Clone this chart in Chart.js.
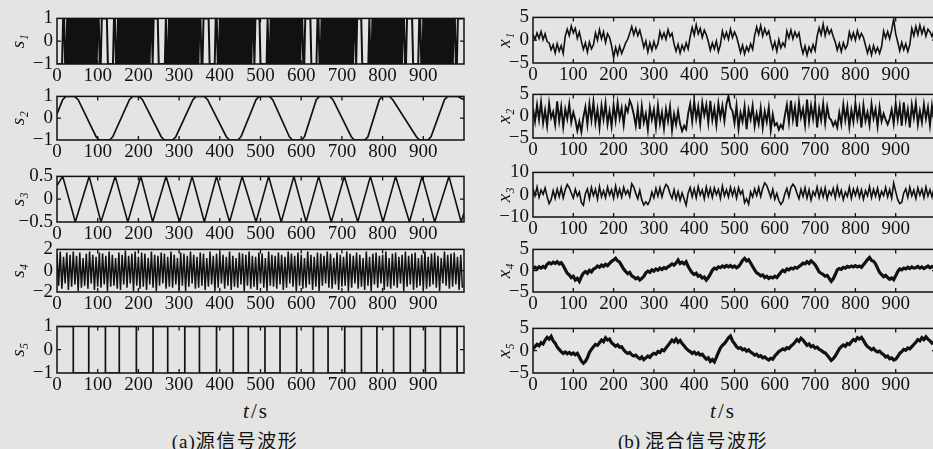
<!DOCTYPE html>
<html><head><meta charset="utf-8">
<script src="https://cdn.jsdelivr.net/npm/chart.js@4.4.0/dist/chart.umd.min.js"></script>
<style>
html,body{margin:0;padding:0;width:933px;height:449px;overflow:hidden;background:#e4e4e2;}
canvas{position:absolute;}
.lbl{position:absolute;font-family:"Liberation Serif","DejaVu Serif",serif;color:#111;white-space:nowrap;transform:translate(-50%,-50%);}
.cjk{font-family:"Noto Sans CJK SC",sans-serif;letter-spacing:1.5px;}
</style></head><body>
<div class="lbl" style="left:256px;top:411px;font-size:21px;letter-spacing:2px"><i>t</i>/s</div>
<div class="lbl" style="left:723px;top:411px;font-size:21px;letter-spacing:2px"><i>t</i>/s</div>
<div class="lbl" style="left:235px;top:439px;font-size:19px"><span style="letter-spacing:1px">(a)</span><span class="cjk">源信号波形</span></div>
<div class="lbl" style="left:693px;top:439px;font-size:19px">(b) <span class="cjk">混合信号波形</span></div>
<script>
// ---------- tick labels ----------
const xTickValues = [0,100,200,300,400,500,600,700,800,900];
const yTicksUnit = [-1,0,1];
const yTicksHalf = [-0.5,0,0.5];
const yTicksTwo = [-2,0,2];
const yTicksFive = [-5,0,5];
const yTicksTen = [-10,0,10];

// ---------- source signals ----------
// s1: sign sequence sampled every 2.5 s ('+' = 1, '-' = -1)
const s1Step = 2.5;
const s1Code = [
 "------++--+-+-+-+-+-+-+-+-+-+-+-+-+-+-+-",
 "++--++++++------++--+-+-+-+-+-+-+-+-+-+-+-+-+-+-+-",
 "+-++-+++++-------+--+-+-+-+-+-+-+-+-+-+-+-+-+-+-+-",
 "++--++++++------++--+-+-+-+-+-+-+-+-+-+-+-+-+-+-+-",
 "+-++-+++++-------+--+-+-+-+-+-+-+-+-+-+-+-+-+-+-+-",
 "++--++++++------++--+-+-+-+-+-+-+-+-+-+-+-+-+-+-+-",
 "+-++-+++++-------+--+-+-+-+-+-+-+-+-+-+-+-+-+-+-+-",
 "++--++++++------++--+-+-+-+-+-+-+-+-+-+-+-+-+-+-+-",
 "++--++++++"
].join("");

// s2: read turning points
const s2T = [0,14,22,43,52,96,104,129,137,178,186,202,210,256,264,284,292,334,342,362,370,416,424,444,452,489,497,522,530,571,579,600,608,637,645,670,678,723,731,756,764,792,800,817,825,883,891,911,919,952,960,985,1000];
const s2V = [0.2,0.85,1,1,0.85,-0.85,-1,-1,-0.85,0.85,1,1,0.85,-0.85,-1,-1,-0.85,0.85,1,1,0.85,-0.85,-1,-1,-0.85,0.85,1,1,0.85,-0.85,-1,-1,-0.85,0.85,1,1,0.85,-0.85,-1,-1,-0.85,0.85,1,1,0.85,-0.85,-1,-1,-0.85,0.85,1,1,0.85];

// s3: peaks and troughs
const s3T = [0,14,45,79,108,143,174,206,235,268,301,332,362,392,424,455,489,520,551,582,612,643,674,706,739,770,801,832,866,897,928,963,993,1000];
const s3V = [0.3,0.5,-0.5,0.5,-0.5,0.5,-0.5,0.5,-0.5,0.5,-0.5,0.5,-0.5,0.5,-0.5,0.5,-0.5,0.5,-0.5,0.5,-0.5,0.5,-0.5,0.5,-0.5,0.5,-0.5,0.5,-0.5,0.5,-0.5,0.5,-0.5,-0.3];

// s4: sampled every 4 s
const s4Step = 4;
const s4V = [
1.6,-1.4,1.8,-1.7,1.3,-1.2,1.7,-1.8,1.5,-1.5, 1.8,-1.3,1.4,-1.9,1.7,-1.6,1.2,-1.4,1.6,-1.7,
1.8,-1.2,1.5,-1.8,1.3,-1.5,1.7,-1.6,1.6,-1.3, 1.4,-1.9,1.8,-1.5,1.5,-1.4,1.2,-1.7,1.7,-1.8,
1.5,-1.3,1.9,-1.6,1.4,-1.2,1.6,-1.9,1.8,-1.4, 1.3,-1.7,1.7,-1.5,1.6,-1.8,1.2,-1.3,1.8,-1.6,
1.5,-1.9,1.4,-1.4,1.7,-1.2,1.6,-1.7,1.3,-1.5, 1.8,-1.6,1.5,-1.3,1.2,-1.8,1.7,-1.4,1.6,-1.9,
1.4,-1.5,1.8,-1.2,1.5,-1.7,1.3,-1.6,1.7,-1.4, 1.6,-1.8,1.2,-1.5,1.8,-1.3,1.4,-1.9,1.6,-1.6,
1.7,-1.2,1.5,-1.7,1.3,-1.4,1.8,-1.8,1.4,-1.5, 1.2,-1.6,1.7,-1.3,1.6,-1.9,1.5,-1.4,1.8,-1.7,
1.4,-1.5,1.3,-1.8,1.7,-1.2,1.6,-1.6,1.2,-1.9, 1.8,-1.4,1.5,-1.5,1.4,-1.7,1.7,-1.3,1.5,-1.8,
1.3,-1.6,1.8,-1.2,1.6,-1.5,1.4,-1.9,1.7,-1.4, 1.5,-1.7,1.2,-1.6,1.8,-1.3,1.5,-1.8,1.3,-1.5,
1.7,-1.9,1.6,-1.4,1.4,-1.2,1.8,-1.6,1.6,-1.7, 1.2,-1.3,1.7,-1.8,1.5,-1.5,1.3,-1.4,1.8,-1.9,
1.6,-1.6,1.4,-1.2,1.7,-1.7,1.5,-1.5,1.2,-1.8, 1.8,-1.4,1.3,-1.9,1.6,-1.3,1.7,-1.6,1.4,-1.2,
1.5,-1.8,1.8,-1.5,1.2,-1.7,1.6,-1.4,1.7,-1.6, 1.3,-1.2,1.5,-1.9,1.8,-1.5,1.4,-1.3,1.6,-1.8,
1.7,-1.6,1.2,-1.4,1.5,-1.8,1.8,-1.7,1.3,-1.5, 1.6,-1.3,1.7,-1.6,1.4,-1.9,1.2,-1.2,1.8,-1.4,
1.5,-1.7,1.6,-1.5,1.7,-1.3,1.3,-1.8,1.5,-1.6];

// s5: switching times of the square wave and level after each switch
const s5T = [0,40,78,119,153,195,236,272,314,350,392,433,470,511,548,589,630,666,707,748,786,827,868,905,942,983,1000];
const s5V = [1,-1,1,-1,1,-1,1,-1,1,-1,1,-1,1,-1,1,-1,1,-1,1,-1,1,-1,1,-1,1,-1,-1];

// ---------- mixed signals, sampled every 5 s ----------
const xStep = 5;
const x1V = [
1.2,0.2,1.6,0.4,1.9,0.1,1.4,-0.3, -0.6,-2.1,-1.0,-2.8,-0.8,-2.4,-1.2,-2.9,
0.9,2.4,1.0,3.1,1.6,2.6,0.4,1.8, -0.2,-2.0,-0.6,-2.6,-0.4,-1.9,-1.0,
1.6,0.0,2.3,0.3,1.8,-0.5,1.4,0.6, -1.2,-3.8,-1.6,-3.2,-1.3,-2.9,-1.8,-0.6,
0.2,1.5,3.0,1.2,2.6,1.0,2.2, 0.4,-1.6,-0.2,-2.6,-0.6,-2.2,-0.3,-1.8,-0.8,
1.9,0.4,1.6,0.2,2.3,0.8,1.5, -0.8,-2.4,-0.9,-2.8,-1.1,-2.2,-0.6,-1.9,
0.8,2.8,1.1,3.4,1.4,2.6,0.6,2.2,1.2, -0.3,-2.2,-0.6,-1.9,-0.2,-2.5,-1.0,
2.0,0.4,1.7,0.2,2.4,0.6,1.8,0.8, -0.9,-2.7,-1.1,-3.0,-1.4,-2.4,-0.8,-2.0,
1.0,2.9,1.3,3.2,0.9,2.5,1.2,2.0, -0.2,-1.9,-0.4,-2.4,0.1,-1.7,-0.6,-1.4,
2.0,0.5,2.2,0.3,1.8,0.7,1.6, -1.1,-2.9,-1.3,-3.3,-1.5,-2.6,-1.0,-2.3,
0.9,2.7,1.2,3.5,1.0,2.8,1.4,2.3,0.8, -0.4,-2.2,-0.7,-2.5,-0.6,-1.9,-1.1,
1.8,0.2,1.6,0.0,2.1,0.4,1.5,0.6, -1.1,-2.8,-1.3,-3.2,-1.2,-2.7,-1.6,-2.9,-1.4,
2.0,0.5,1.9,0.3,2.2,4.6,1.4, -0.4,-2.3,-0.5,-2.1,-0.8,-2.5,-1.0,
2.6,1.0,3.0,1.2,3.3,1.4,2.8,0.9,2.4, 1.8,0.8,2.2];

const x2V = [
1.8,-1.2,2.6,-0.8,3.2,-1.6,1.4,-2.2,2.9,-0.4,1.0,-1.9,3.4,-1.1,2.2,-2.4,1.6,-0.6,2.8,-1.4,0.9,
-0.8,-3.3,-1.2,-3.6,
-0.2,2.1,-1.9,2.8,-0.9,3.3,-1.5,1.6,-2.6,2.4,-0.7,3.0,-1.8,1.2,-2.3,2.6,-1.0,3.1,-0.5,1.9,-2.0,2.2,
1.0,3.6,2.4,
0.4,-2.2,1.8,-2.9,2.3,-1.4,0.6,-3.1,2.0,-0.8,1.5,-2.5,2.4,-1.7,0.9,-2.8,1.6,-1.1,2.2,-3.2,0.5,-1.9,1.2,
-1.8,-3.4,-2.2,-3.0,
0.6,2.8,-1.2,3.4,-0.6,2.2,-1.8,3.1,0.2,2.6,-1.5,3.5,-0.9,1.8,-2.0,2.9,-0.3,2.4,-1.1,
2.8,4.6,2.0,
1.2,-1.6,2.4,-2.9,0.8,-1.2,2.2,-3.0,1.5,-0.7,2.4,-2.3,0.6,-1.8,1.9,-2.6,1.1,-1.3,2.0,-3.2,0.4,-2.1,
-1.6,-3.1,-2.0,-2.8,
0.2,2.6,-1.4,3.6,-0.8,2.1,-2.4,3.2,-0.3,1.7,-2.0,3.8,-1.2,2.4,-0.6,3.0,-2.6,1.8,-0.9,2.9,-1.6,2.2,-0.4,
-0.9,-2.2,-1.2,-2.6,
0.8,-1.8,2.7,-0.9,2.2,-2.4,1.4,-1.3,3.0,-0.7,1.9,-2.6,2.5,-1.1,0.9,-2.0,2.8,-0.5,1.6,-2.3,2.1,-1.2,0.6,
-0.8,-1.9,-0.6,
1.5,-1.7,2.9,-0.8,2.3,-2.2,3.2,-1.0,1.6,-2.6,2.6,-0.4,3.0,-1.9,1.2,-1.4,2.7,-0.6,2.0,-2.1,2.4,-0.9];

const x3V = [
2.8,-0.5,3.4,-1.2,2.1,0.2,3.0,-0.8, -4.0,-2.2, 1.8,-1.6,2.5,-0.9,3.1,-1.4,2.2, 4.6,3.2,
0.8,-1.5,2.4,-0.6,1.2, -3.5,-4.7,
0.4,2.6,-1.8,3.2,-0.4,2.4,-2.0,3.6,-0.9,1.8,-1.3,3.4,-0.2,2.2,-1.6,3.8,-0.7,2.5,-1.1,3.3,0.2,2.0,-0.8,
4.9,3.4, 0.6,-1.8,1.9,-2.4, -4.6,-3.2,-4.4,-2.6, 1.2,-1.4,2.8,-0.6,3.1,-1.0,2.4, 4.6,3.6,
0.4,-1.6,2.2,-2.0,1.4,-2.6,0.8,-1.9, -4.7,
0.8,3.2,-0.9,2.6,-1.4,3.6,-0.2,2.1,-1.8,3.4,-0.6,2.8,-1.2,3.0,0.1,2.4,-1.6,3.8,-0.5,2.2,-1.0,3.3,-0.3,2.7,-1.5,3.1,0.2,1.8,
-3.6,-1.8,-4.2, 1.2,-1.0,2.6,-0.4,3.2,-0.8,2.9, 5.3,4.1, 1.6,-1.2,2.4,-2.0,0.6,-2.6, -4.4,-3.0,
0.4,2.8,-0.9,3.2, 4.7,3.5,
0.6,-1.8,2.4,-0.7,3.1,-1.5,2.2,-2.4,1.4,-0.4,3.4,-1.2,2.6,-0.9,3.0,-1.9,1.6,-0.2,2.8,-1.4,
3.5,-0.6,2.0,-2.2,1.2,-0.8,3.3,-1.6,2.5,-0.3,3.0,-1.1,2.2,-2.0,1.8,-0.5,3.6,-1.3,2.4,-0.7,
2.9,-1.7,1.5,-0.4,3.2,-1.0,2.3,-1.5,
5.2, 1.4,-2.2,-4.0,-3.4,
0.8,2.6,-1.2,3.3,-0.5,2.1,-1.7,3.0,-0.2,2.5,-1.3,3.4,-0.6,2.2,-1.0,2.8];

const x4V = [
0.5,0.8,0.4,0.9,0.6,1.0,0.7,1.5,1.9,1.6, 2.0,1.7,2.1,1.6,1.9,1.2,0.3,-0.6,-1.0,-1.6,
-1.3,-2.2,-1.8,-2.5,-1.4,-0.6,-0.2,-0.6,0.1,-0.3, 0.4,0.6,1.1,0.8,1.3,1.0,1.5,1.2,1.7,2.2,
2.5,2.9,2.3,2.0,1.2,0.4,-0.2,-0.7,-0.4,-1.2, -1.5,-1.9,-1.6,-2.2,-1.8,-1.3,-0.5,-0.1,-0.4,0.2,
-0.1,0.4,0.1,0.6,0.3,0.7,0.5,0.9,1.2,1.6, 1.3,1.8,2.5,1.7,2.0,1.6,2.1,1.0,0.2,-0.5,
-0.9,-0.6,-1.3,-1.1,-1.7,-1.5,-2.2,-1.6,-0.8,0.1, 0.6,0.4,0.9,0.7,1.1,0.8,1.2,0.9,1.2,0.8,
1.1,0.7,1.0,1.6,2.4,2.9,2.3,2.6,1.8,1.0, 0.2,-0.5,-0.8,-1.2,-1.0,-1.6,-1.3,-1.8,-1.5,-1.7,
-1.3,-1.6,-1.0,-0.4,0.1,-0.2,0.4,0.2,0.6,0.4, 0.8,0.6,1.0,1.3,1.8,1.6,2.1,1.7,2.3,1.9,
1.4,0.6,-0.3,-0.6,-0.9,-1.3,-1.1,-1.8,-2.5,-1.9, -0.9,0.2,0.5,0.3,0.8,0.6,1.0,0.8,1.1,0.9,
1.2,0.9,1.1,0.8,1.4,2.0,2.6,3.1,2.4,2.2, 1.6,0.6,-0.4,-0.9,-1.4,-1.1,-1.6,-2.0,-1.7,-2.1,
-1.2,-0.2,0.4,0.2,0.6,0.4,0.8,0.5,0.9,0.6, 0.7,1.0,0.6,0.9,0.5,0.8,1.1,0.7,1.0,0.8];

const x5V = [
0.4,0.9,1.4,1.1,1.8,1.5,2.4,3.0,2.6,3.2, 2.2,1.7,0.8,0.3,-0.2,-0.6,-0.3,-0.7,-0.4,-0.8,
-0.5,-0.9,-0.6,-1.4,-2.3,-2.8,-2.4,-1.6,-0.4,0.3, 0.9,1.4,1.2,1.8,2.4,2.0,2.9,2.4,2.6,1.8,
1.4,1.0,1.3,0.8,0.9,0.2,-0.3,-0.6,-0.4,-0.9, -1.2,-1.0,-1.5,-1.8,-1.4,-2.0,-1.6,-1.2,-1.5,-0.9,
-0.6,-0.8,-0.2,-0.4,0.2,0.0,0.6,1.2,1.8,2.4, 2.0,2.6,1.9,2.3,1.6,1.1,0.5,0.1,-0.2,-0.6,
-0.3,-0.8,-0.5,-1.0,-0.8,-1.4,-1.9,-1.6,-2.4,-2.0, -2.5,-1.5,-0.4,0.6,1.2,1.6,2.2,2.9,3.3,2.2,
1.6,0.9,0.5,0.7,0.2,0.4,-0.1,0.2,-0.3,-0.6, -1.0,-0.8,-1.3,-1.1,-1.6,-1.4,-1.8,-2.1,-1.7,-1.9,
-1.2,-0.7,-0.2,0.1,0.4,0.2,0.7,0.5,1.0,1.4, 1.9,2.5,2.1,2.8,2.4,1.8,1.2,1.5,0.9,1.1,
0.6,0.8,0.3,0.1,-0.3,-0.5,-1.0,-1.6,-2.2,-1.8, -1.2,-0.4,0.4,0.9,1.3,1.0,1.6,1.4,2.0,2.5,
2.2,2.9,2.6,3.0,2.3,1.5,0.9,0.6,0.2,0.5, 0.0,-0.3,-0.1,-0.6,-0.9,-1.4,-1.2,-1.8,-1.6,-2.1,
-1.9,-1.3,-0.6,-0.2,0.3,0.1,0.6,0.4,0.9,1.4, 1.9,2.5,2.2,2.9,2.5,3.1,2.6,2.2,1.7,2.0];

// ---------- build point lists from the arrays ----------
const pairs = (T, V) => T.map((t, i) => ({x: t, y: V[i]}));
const sampled = (V, step) => V.map((v, i) => ({x: i * step, y: v}));
const s1Pts = Array.from(s1Code).map((c, i) => ({x: i * s1Step, y: c === '+' ? 1 : -1}));

const FONT = '"Liberation Serif","DejaVu Serif",serif';
const fmt = v => String(v).replace('-', '\u2212');

const framePlugin = {
  id: 'frame',
  afterDatasetsDraw(chart) {
    const {ctx, chartArea: a} = chart;
    const xs = chart.scales.x, ys = chart.scales.y;
    ctx.save();
    ctx.strokeStyle = '#111';
    ctx.lineWidth = 1.5;
    ctx.strokeRect(a.left, a.top, a.right - a.left, a.bottom - a.top);
    ctx.lineWidth = 1.3;
    ctx.beginPath();
    xs.ticks.forEach(t => {
      const p = xs.getPixelForValue(t.value);
      if (p <= a.left + 1 || p >= a.right - 1) return;
      ctx.moveTo(p, a.bottom); ctx.lineTo(p, a.bottom - 4);
      ctx.moveTo(p, a.top); ctx.lineTo(p, a.top + 4);
    });
    ys.ticks.forEach(t => {
      const p = ys.getPixelForValue(t.value);
      if (p <= a.top + 1 || p >= a.bottom - 1) return;
      ctx.moveTo(a.left, p); ctx.lineTo(a.left + 4, p);
      ctx.moveTo(a.right, p); ctx.lineTo(a.right - 4, p);
    });
    ctx.stroke();
    ctx.restore();
  }
};

const SIDES = {
  L: {left: 0, boxLeft: 57, boxRight: 464, titlePad: 8},
  R: {left: 470, boxLeft: 533, boxRight: 936, titlePad: 24}
};

const specs = [
  {side:'L', top:17,  bottom:64,  title:'s\u2081', min:-1,   max:1,   yTicks:yTicksUnit, pts:s1Pts, lw:2},
  {side:'L', top:95,  bottom:140, title:'s\u2082', min:-1,   max:1,   yTicks:yTicksUnit, pts:pairs(s2T, s2V), lw:1.7},
  {side:'L', top:175, bottom:222, title:'s\u2083', min:-0.5, max:0.5, yTicks:yTicksHalf, pts:pairs(s3T, s3V), lw:1.6},
  {side:'L', top:248, bottom:292, title:'s\u2084', min:-2,   max:2,   yTicks:yTicksTwo,  pts:sampled(s4V, s4Step), lw:1.5},
  {side:'L', top:325, bottom:373, title:'s\u2085', min:-1,   max:1,   yTicks:yTicksUnit, pts:pairs(s5T, s5V), lw:1.7, stepped:true},
  {side:'R', top:16,  bottom:63,  title:'x\u2081', min:-5,   max:5,   yTicks:yTicksFive, pts:sampled(x1V, xStep), lw:1.6},
  {side:'R', top:93,  bottom:138, title:'x\u2082', min:-5,   max:5,   yTicks:yTicksFive, pts:sampled(x2V, xStep), lw:1.9},
  {side:'R', top:171, bottom:217, title:'x\u2083', min:-10,  max:10,  yTicks:yTicksTen,  pts:sampled(x3V, xStep), lw:1.6},
  {side:'R', top:248, bottom:292, title:'x\u2084', min:-5,   max:5,   yTicks:yTicksFive, pts:sampled(x4V, xStep), lw:3.2},
  {side:'R', top:327, bottom:373, title:'x\u2085', min:-5,   max:5,   yTicks:yTicksFive, pts:sampled(x5V, xStep), lw:3.2}
];

specs.forEach(s => {
  const g = SIDES[s.side];
  const W = 470, padTop = 14, xH = 30;
  const H = (s.bottom - s.top) + padTop + xH;
  const c = document.createElement('canvas');
  c.width = W; c.height = H;
  c.style.width = W + 'px'; c.style.height = H + 'px';
  c.style.left = g.left + 'px';
  c.style.top = (s.top - padTop) + 'px';
  document.body.appendChild(c);
  new Chart(c, {
    type: 'line',
    data: {datasets: [{
      data: s.pts, borderColor: '#111', borderWidth: s.lw, pointRadius: 0,
      fill: false, tension: 0, stepped: s.stepped || false
    }]},
    options: {
      responsive: false, animation: false, devicePixelRatio: 1, events: [],
      layout: {padding: {top: padTop, right: W - (g.boxRight - g.left), left: 0, bottom: 0}},
      plugins: {legend: {display: false}, tooltip: {enabled: false}},
      scales: {
        x: {
          type: 'linear', min: 0, max: 1000,
          afterBuildTicks: sc => { sc.ticks = xTickValues.map(v => ({value: v})); },
          afterFit: sc => { sc.height = xH; },
          grid: {display: false, drawTicks: false, tickLength: 0}, border: {display: false},
          ticks: {font: {family: FONT, size: 19}, color: '#111', padding: 1, maxRotation: 0, autoSkip: false,
                  callback: v => String(v)}
        },
        y: {
          type: 'linear', min: s.min, max: s.max,
          afterBuildTicks: sc => { sc.ticks = s.yTicks.map(v => ({value: v})); },
          afterFit: sc => { sc.width = g.boxLeft - g.left; },
          grid: {display: false, drawTicks: false, tickLength: 0}, border: {display: false},
          title: {display: true, text: s.title, color: '#111',
                  font: {family: FONT, size: 19, style: 'italic'}, padding: {top: g.titlePad, bottom: 0}},
          ticks: {font: {family: FONT, size: 19}, color: '#111', padding: 4, autoSkip: false,
                  callback: v => fmt(v)}
        }
      }
    },
    plugins: [framePlugin]
  });
});
</script>
</body></html>
